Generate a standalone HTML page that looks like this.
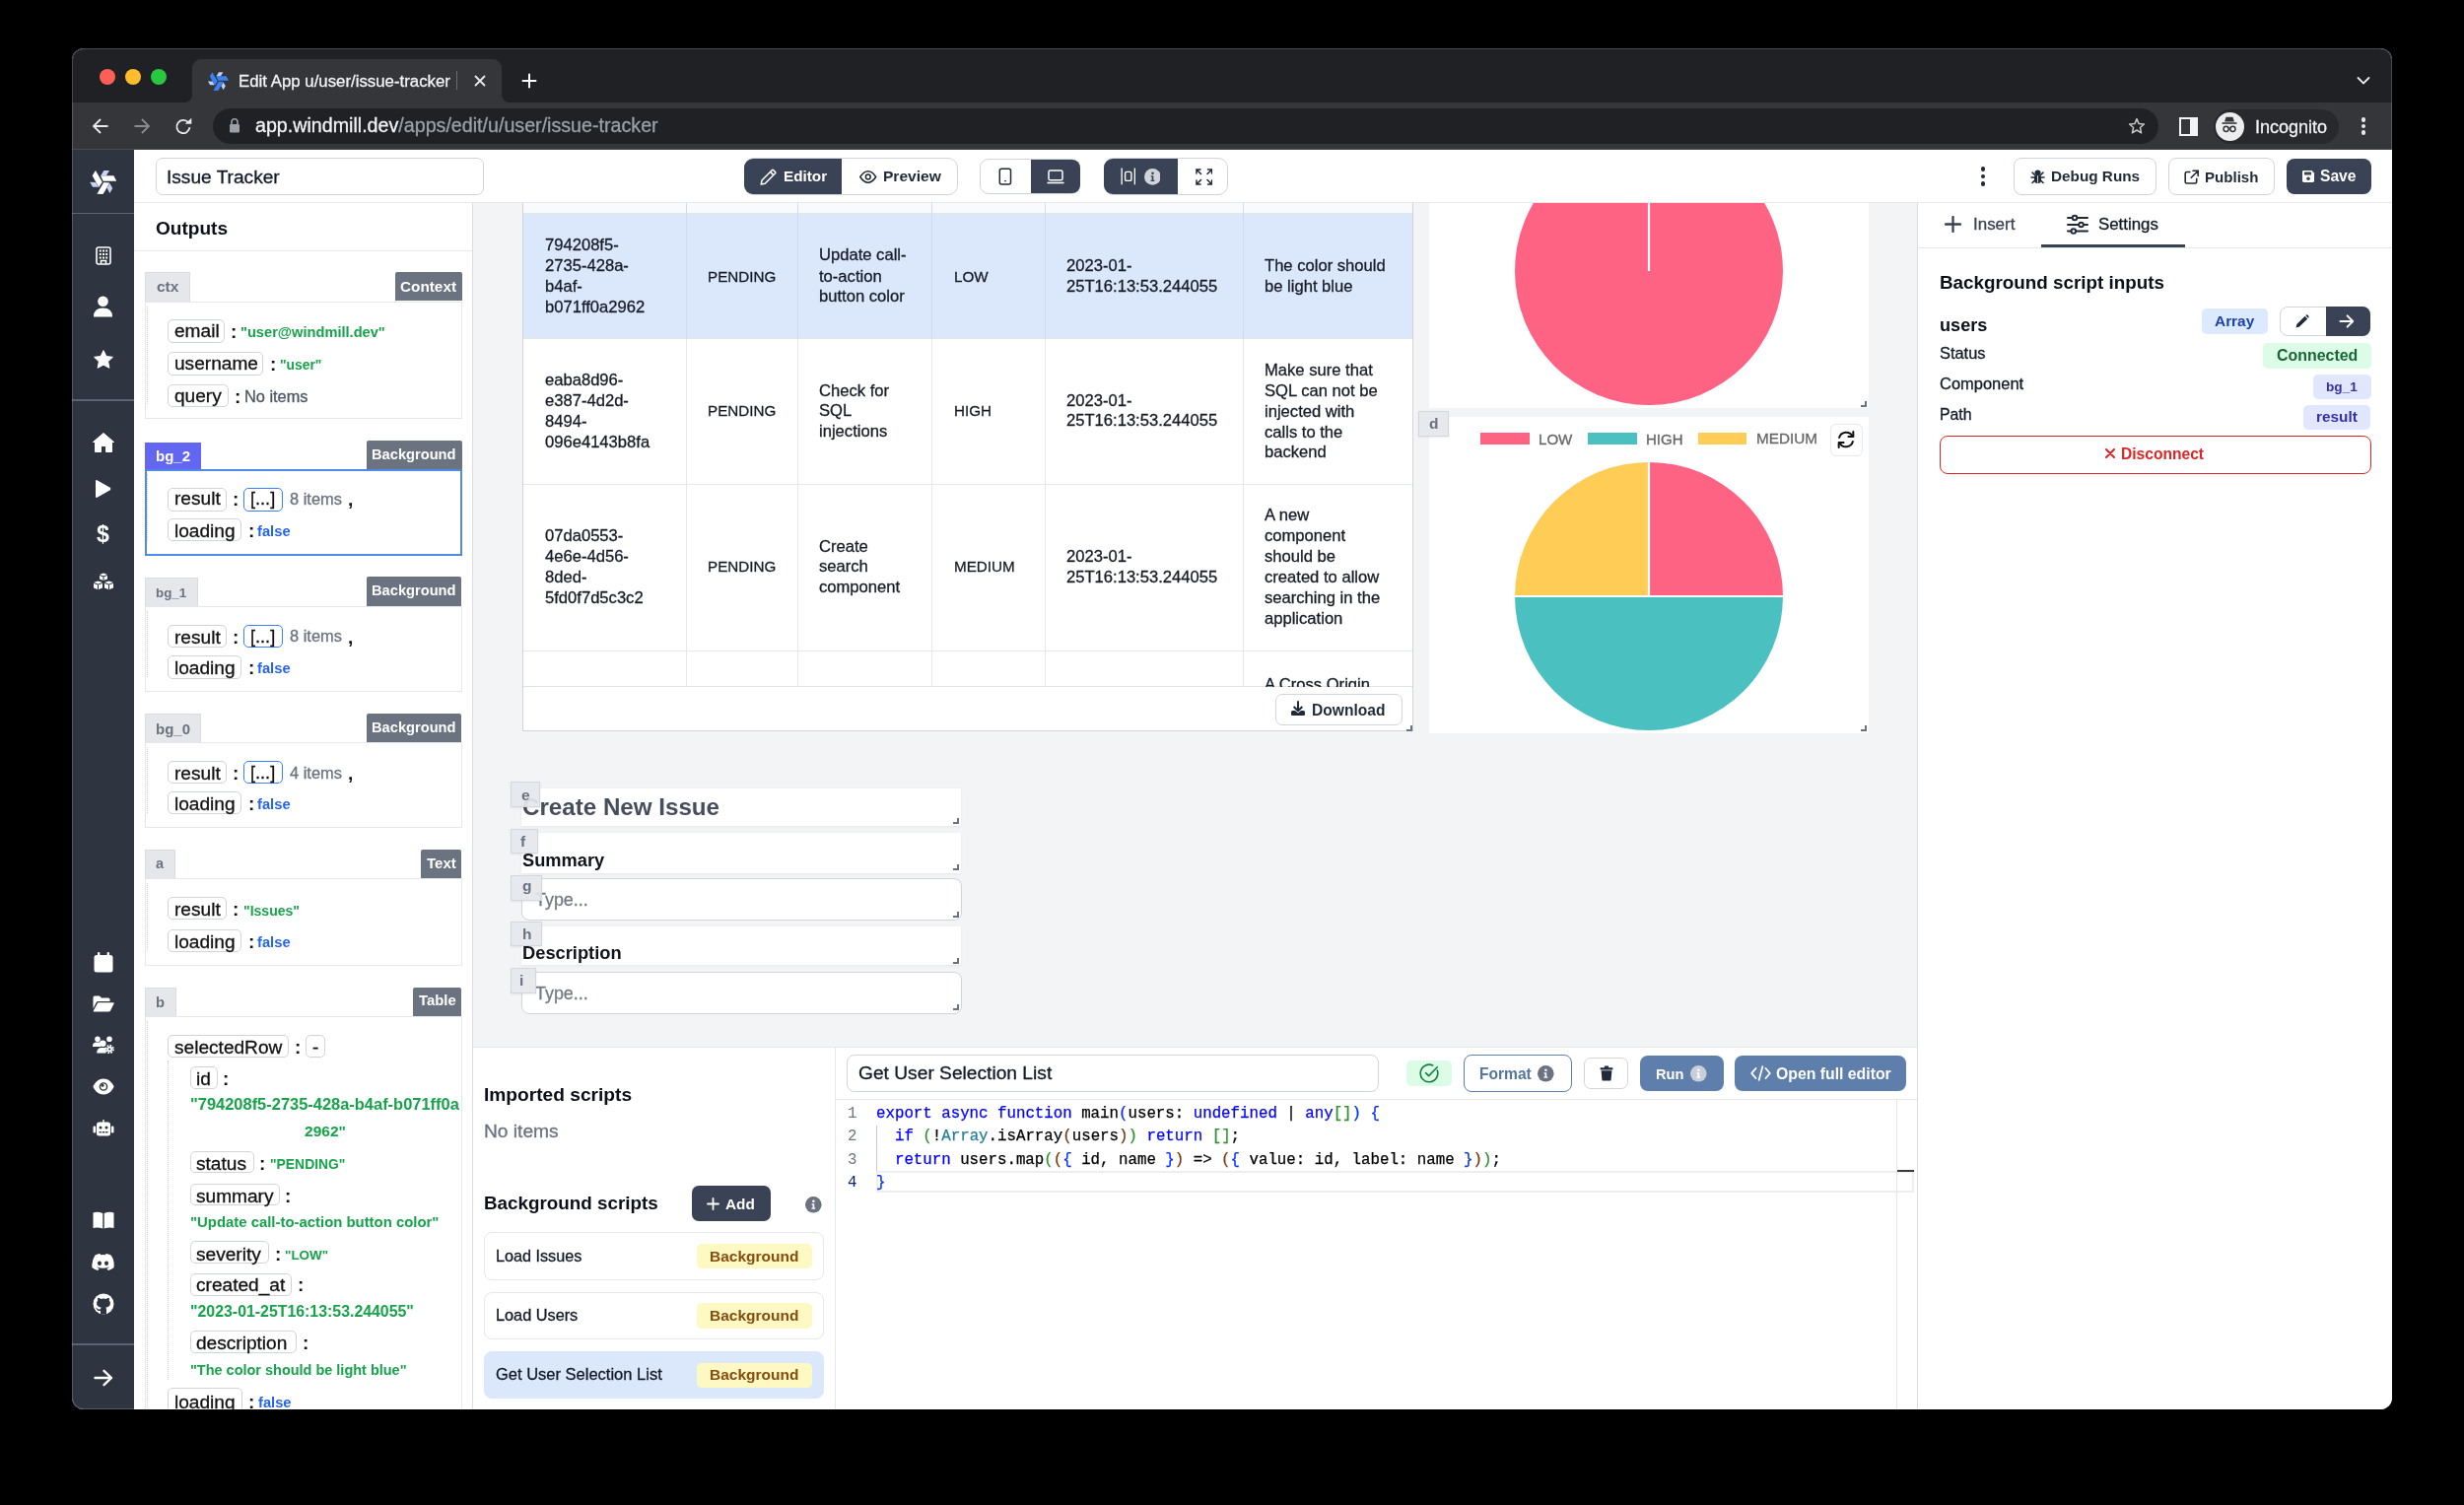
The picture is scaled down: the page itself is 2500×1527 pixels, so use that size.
<!DOCTYPE html><html><head><meta charset="utf-8"><style>
*{margin:0;padding:0;box-sizing:border-box}
html,body{width:2500px;height:1527px;background:#000;overflow:hidden}
body{position:relative;font-family:"Liberation Sans",sans-serif}
.a{position:absolute}
.t{white-space:nowrap;line-height:1;will-change:transform}
#win{position:absolute;left:0;top:0;width:2500px;height:1527px;clip-path:inset(49px 73px 97px 73px round 12px);background:#fff}
</style></head><body><div id="win">
<div class="a" style="left:73.0px;top:49.0px;width:2354.0px;height:55.0px;background:#202124"></div>
<div class="a" style="left:195px;top:60px;width:314px;height:45px;background:#35363a;border-radius:9px 9px 0 0"></div>
<div class="a" style="left:187px;top:96px;width:8px;height:8px;background:radial-gradient(circle at 0 0,#202124 7.5px,#35363a 8.5px)"></div>
<div class="a" style="left:509px;top:96px;width:8px;height:8px;background:radial-gradient(circle at 100% 0,#202124 7.5px,#35363a 8.5px)"></div>
<div class="a" style="left:100.6px;top:69.8px;width:16px;height:16px;border-radius:50%;background:#ff5f57"></div>
<div class="a" style="left:126.7px;top:69.8px;width:16px;height:16px;border-radius:50%;background:#febc2e"></div>
<div class="a" style="left:152.6px;top:69.8px;width:16px;height:16px;border-radius:50%;background:#28c840"></div>
<svg class="a" style="left:209.5px;top:71.1px" width="22.6" height="22.6" viewBox="-14 -14 28 28"><g transform="rotate(0)"><polygon points="-2.4,-6.1 10.4,-6.1 13.2,-0.8 0.1,-0.8" fill="#3b82f6"/><polygon points="0.8,-11.2 6.3,-11.2 3.3,-6.4 -2.1,-6.4" fill="#bcd0f7"/></g><g transform="rotate(120)"><polygon points="-2.4,-6.1 10.4,-6.1 13.2,-0.8 0.1,-0.8" fill="#3b82f6"/><polygon points="0.8,-11.2 6.3,-11.2 3.3,-6.4 -2.1,-6.4" fill="#bcd0f7"/></g><g transform="rotate(240)"><polygon points="-2.4,-6.1 10.4,-6.1 13.2,-0.8 0.1,-0.8" fill="#3b82f6"/><polygon points="0.8,-11.2 6.3,-11.2 3.3,-6.4 -2.1,-6.4" fill="#bcd0f7"/></g></svg>
<div class="a t" style="left:242.0px;top:74.6px;font-size:16.82px;font-weight:normal;font-family:'Liberation Sans',sans-serif;color:#f1f3f4;-webkit-text-stroke:0.3px;">Edit App u/user/issue-tracker</div>
<div class="a" style="left:462.5px;top:72.0px;width:1.0px;height:19.0px;background:#6a6b6f"></div>
<svg class="a" style="left:481px;top:76px;" width="12" height="12" viewBox="0 0 12 12"><path d="M1.5 1.5L10.5 10.5M10.5 1.5L1.5 10.5" stroke="#e8eaed" stroke-width="1.8" stroke-linecap="round"/></svg>
<svg class="a" style="left:529px;top:74px;" width="16" height="16" viewBox="0 0 16 16"><path d="M8 1.5V14.5M1.5 8H14.5" stroke="#fff" stroke-width="2" stroke-linecap="round"/></svg>
<svg class="a" style="left:2391px;top:77px;" width="14" height="10" viewBox="0 0 14 10"><path d="M1.5 2L7 7.5L12.5 2" stroke="#e8eaed" stroke-width="1.8" fill="none" stroke-linecap="round"/></svg>
<div class="a" style="left:73.0px;top:104.0px;width:2354.0px;height:48.0px;background:#35363a"></div>
<div class="a" style="left:73.0px;top:151.0px;width:2354.0px;height:1.5px;background:#4a4b4f"></div>
<svg class="a" style="left:93px;top:119px;" width="18" height="18" viewBox="0 0 18 18"><path d="M16.5 9H2M9 2L2 9L9 16" stroke="#e8eaed" stroke-width="1.8" fill="none"/></svg>
<svg class="a" style="left:135px;top:119px;" width="18" height="18" viewBox="0 0 18 18"><path d="M1.5 9H16M9 2L16 9L9 16" stroke="#8a8b8e" stroke-width="1.8" fill="none"/></svg>
<svg class="a" style="left:176.5px;top:118.5px;" width="19" height="19" viewBox="0 0 19 19"><path d="M15.5 10.2A6.6 6.6 0 1 1 14 5.3" stroke="#e8eaed" stroke-width="1.8" fill="none"/><path d="M10.8 6.8L17.3 6.8L17.3 0.8Z" fill="#e8eaed"/></svg>
<div class="a" style="left:215.5px;top:110px;width:1974.5px;height:36px;border-radius:18px;background:#202124"></div>
<svg class="a" style="left:232px;top:119px;" width="12" height="16" viewBox="0 0 12 16"><path d="M3 7V4.8a3 3 0 0 1 6 0V7" stroke="#9aa0a6" stroke-width="1.6" fill="none"/><rect x="1" y="7" width="10" height="8.5" rx="1.3" fill="#9aa0a6"/></svg>
<div class="a t" style="left:259.0px;top:117.7px;font-size:19.67px;font-weight:normal;font-family:'Liberation Sans',sans-serif;color:#9aa0a6;-webkit-text-stroke:0.3px;">app.windmill.dev/apps/edit/u/user/issue-tracker</div>
<div class="a t" style="left:259.0px;top:117.7px;font-size:19.67px;font-weight:normal;font-family:'Liberation Sans',sans-serif;color:#f1f3f4;-webkit-text-stroke:0.3px;background:#202124">app.windmill.dev</div>
<svg class="a" style="left:2159px;top:119px;" width="18" height="18" viewBox="0 0 18 18"><path d="M9 1.6L11.1 6.6L16.4 7L12.4 10.5L13.6 15.8L9 13L4.4 15.8L5.6 10.5L1.6 7L6.9 6.6Z" stroke="#c4c7c5" stroke-width="1.5" fill="none" stroke-linejoin="round"/></svg>
<svg class="a" style="left:2211px;top:119px;" width="19" height="19" viewBox="0 0 19 19"><rect x="1" y="1" width="17" height="17" fill="none" stroke="#f1f3f4" stroke-width="2"/><rect x="11" y="1" width="7" height="17" fill="#f1f3f4"/></svg>
<div class="a" style="left:2246px;top:110.5px;width:127px;height:35px;border-radius:17.5px;background:#28292c"></div>
<div class="a" style="left:2247.5px;top:113.5px;width:29px;height:29px;border-radius:50%;background:#eceded"></div>
<svg class="a" style="left:2250px;top:117px;" width="24" height="22" viewBox="0 0 24 22"><path d="M7 6.5L8.5 1.8H15.5L17 6.5Z" fill="#35363a"/><rect x="4.5" y="7.2" width="15" height="1.6" fill="#35363a"/><circle cx="8.6" cy="13.8" r="2.6" stroke="#35363a" stroke-width="1.5" fill="none"/><circle cx="15.4" cy="13.8" r="2.6" stroke="#35363a" stroke-width="1.5" fill="none"/><path d="M11.2 13.5Q12 12.8 12.8 13.5" stroke="#35363a" stroke-width="1.3" fill="none"/></svg>
<div class="a t" style="left:2287.5px;top:119.5px;font-size:18.00px;font-weight:normal;font-family:'Liberation Sans',sans-serif;color:#f1f3f4;-webkit-text-stroke:0.3px;">Incognito</div>
<div class="a" style="left:2395.9px;top:119.4px;width:4.2px;height:4.2px;border-radius:50%;background:#e8eaed"></div>
<div class="a" style="left:2395.9px;top:125.9px;width:4.2px;height:4.2px;border-radius:50%;background:#e8eaed"></div>
<div class="a" style="left:2395.9px;top:132.4px;width:4.2px;height:4.2px;border-radius:50%;background:#e8eaed"></div>
<div class="a" style="left:136.0px;top:152.0px;width:2291.0px;height:1278.0px;background:#fff"></div>
<div class="a" style="left:73.0px;top:152.0px;width:63.0px;height:1278.0px;background:#2e3440"></div>
<div class="a" style="left:480.0px;top:206.0px;width:1465.0px;height:856.0px;background:#f3f4f6"></div>
<div class="a" style="left:136.0px;top:205.0px;width:2291.0px;height:1.0px;background:#e5e7eb"></div>
<div class="a" style="left:479.0px;top:206.0px;width:1.3px;height:1224.0px;background:#dcdee2"></div>
<div class="a" style="left:1945.0px;top:206.0px;width:1.3px;height:1224.0px;background:#d9dbdf"></div>
<div class="a" style="left:480.0px;top:1062.0px;width:1465.0px;height:1.0px;background:#e5e7eb"></div>
<svg class="a" style="left:90.2px;top:169.8px" width="29.1" height="29.1" viewBox="-14 -14 28 28"><g transform="rotate(0)"><polygon points="-2.4,-6.1 10.4,-6.1 13.2,-0.8 0.1,-0.8" fill="#ffffff"/><polygon points="0.8,-11.2 6.3,-11.2 3.3,-6.4 -2.1,-6.4" fill="#c9d3f7"/></g><g transform="rotate(120)"><polygon points="-2.4,-6.1 10.4,-6.1 13.2,-0.8 0.1,-0.8" fill="#ffffff"/><polygon points="0.8,-11.2 6.3,-11.2 3.3,-6.4 -2.1,-6.4" fill="#c9d3f7"/></g><g transform="rotate(240)"><polygon points="-2.4,-6.1 10.4,-6.1 13.2,-0.8 0.1,-0.8" fill="#ffffff"/><polygon points="0.8,-11.2 6.3,-11.2 3.3,-6.4 -2.1,-6.4" fill="#c9d3f7"/></g></svg>
<div class="a" style="left:73.0px;top:215.5px;width:63.0px;height:1.5px;background:#5b6271"></div>
<div class="a" style="left:73.0px;top:405.0px;width:63.0px;height:1.5px;background:#5b6271"></div>
<div class="a" style="left:73.0px;top:1363.0px;width:63.0px;height:1.5px;background:#5b6271"></div>
<svg class="a" style="left:96.6px;top:249.5px" width="16" height="19" viewBox="0 0 16 19"><rect x="1" y="1" width="14" height="17" rx="2" fill="none" stroke="#fff" stroke-width="1.6"/><rect x="3.8" y="3.5" width="2" height="2" fill="#fff"/><rect x="3.8" y="7" width="2" height="2" fill="#fff"/><rect x="3.8" y="10.5" width="2" height="2" fill="#fff"/><rect x="7" y="3.5" width="2" height="2" fill="#fff"/><rect x="7" y="7" width="2" height="2" fill="#fff"/><rect x="7" y="10.5" width="2" height="2" fill="#fff"/><rect x="10.2" y="3.5" width="2" height="2" fill="#fff"/><rect x="10.2" y="7" width="2" height="2" fill="#fff"/><rect x="10.2" y="10.5" width="2" height="2" fill="#fff"/><path d="M5.5 18V14.5H10.5V18" fill="none" stroke="#fff" stroke-width="1.6"/></svg>
<svg class="a" style="left:95.0px;top:300.0px" width="19" height="22" viewBox="0 0 19 22"><circle cx="9.5" cy="5.8" r="5.3" fill="#fff"/><path d="M0 21.5Q0 12.6 9.5 12.6Q19 12.6 19 21.5Z" fill="#fff"/></svg>
<svg class="a" style="left:94.5px;top:354.5px" width="20" height="19" viewBox="0 0 20 19"><path d="M10 0.6L12.9 6.6L19.4 7.3L14.6 11.8L15.9 18.3L10 15.1L4.1 18.3L5.4 11.8L0.6 7.3L7.1 6.6Z" fill="#fff" stroke="#fff" stroke-width="1" stroke-linejoin="round"/></svg>
<svg class="a" style="left:93.5px;top:438.5px" width="22" height="20" viewBox="0 0 22 20"><path d="M11 0.5L21.5 9.5L19.5 9.5L19.5 19.5L13.5 19.5L13.5 13.5L8.5 13.5L8.5 19.5L2.5 19.5L2.5 9.5L0.5 9.5Z" fill="#fff" stroke="#fff" stroke-linejoin="round"/></svg>
<svg class="a" style="left:96.3px;top:485.8px" width="17" height="20" viewBox="0 0 17 20"><path d="M2.5 1.2Q1 0.5 1 2.5V17.5Q1 19.5 2.5 18.8L15.8 11.2Q17 10 15.8 8.8Z" fill="#fff"/></svg>
<div class="a t" style="left:98.4px;top:531.0px;font-size:23.06px;font-weight:bold;font-family:'Liberation Sans',sans-serif;color:#fff;">$</div>
<svg class="a" style="left:93.5px;top:580.5px" width="22" height="19" viewBox="0 0 22 18"><path d="M7 1.5L11 0L15 1.5V6L11 7.5L7 6Z" fill="#fff"/><path d="M1 9.5L5.5 8L10 9.5V15L5.5 16.8L1 15Z" fill="#fff"/><path d="M12 9.5L16.5 8L21 9.5V15L16.5 16.8L12 15Z" fill="#fff"/><path d="M7 2L11 3.4L15 2M11 3.4V7.3M1 10L5.5 11.5L10 10M5.5 11.5V16.5M12 10L16.5 11.5L21 10M16.5 11.5V16.5" stroke="#2e3440" stroke-width="1" fill="none"/></svg>
<svg class="a" style="left:94.5px;top:966.1px" width="20" height="21" viewBox="0 0 20 21"><rect x="0.5" y="3" width="19" height="17.5" rx="2.5" fill="#fff"/><rect x="4" y="0" width="2.4" height="5" rx="1" fill="#fff"/><rect x="13.6" y="0" width="2.4" height="5" rx="1" fill="#fff"/></svg>
<svg class="a" style="left:93.6px;top:1010.3px" width="22" height="17" viewBox="0 0 22 17"><path d="M0.5 2Q0.5 0.5 2 0.5H7L9 2.5H16Q17.5 2.5 17.5 4V6H5.5Q4.2 6 3.6 7.2L0.5 13.5Z" fill="#fff"/><path d="M5.3 7.2H21Q22 7.2 21.6 8.2L18 15.5Q17.5 16.5 16.2 16.5H1.3Q0.4 16.5 0.8 15.6Z" fill="#fff"/></svg>
<svg class="a" style="left:93.6px;top:1051.4px" width="22" height="18" viewBox="0 0 22 18"><circle cx="5" cy="3.2" r="2.8" fill="#fff"/><circle cx="17" cy="3.2" r="2.8" fill="#fff"/><path d="M0 10Q0 6.5 4 6.5H7Q9 6.5 9.5 8.5Q8 9.5 8 11H0Z" fill="#fff"/><circle cx="10.3" cy="7.8" r="3.3" fill="#fff"/><path d="M4.2 17.5Q4.2 12 9 12H12.5Q13 12 13.5 12.3V17.5Z" fill="#fff"/><circle cx="17.2" cy="13.5" r="3.6" fill="none" stroke="#fff" stroke-width="2.2" stroke-dasharray="1.6 1.2"/><circle cx="17.2" cy="13.5" r="2.8" fill="#fff"/><circle cx="17.2" cy="13.5" r="1.1" fill="#2e3440"/></svg>
<svg class="a" style="left:93.6px;top:1093.5px" width="22" height="17" viewBox="0 0 22 17"><path d="M11 0.5C5 0.5 1.5 5.5 0.5 8.5C1.5 11.5 5 16.5 11 16.5C17 16.5 20.5 11.5 21.5 8.5C20.5 5.5 17 0.5 11 0.5Z" fill="#fff"/><circle cx="11" cy="8.5" r="4.3" fill="#2e3440"/><circle cx="11" cy="8.5" r="2.9" fill="#fff"/><circle cx="10" cy="7.3" r="1.5" fill="#2e3440"/></svg>
<svg class="a" style="left:93.6px;top:1135.5px" width="22" height="17" viewBox="0 0 22 17"><rect x="10.3" y="0" width="1.4" height="3" fill="#fff"/><rect x="4" y="2.5" width="14" height="14" rx="2.5" fill="#fff"/><rect x="0.5" y="6.5" width="2.7" height="7" rx="1.2" fill="#fff"/><rect x="18.8" y="6.5" width="2.7" height="7" rx="1.2" fill="#fff"/><circle cx="8" cy="8" r="1.5" fill="#2e3440"/><circle cx="14" cy="8" r="1.5" fill="#2e3440"/><rect x="6.5" y="12" width="9" height="1.4" fill="#2e3440"/><rect x="8.8" y="11.8" width="1" height="1.8" fill="#fff"/><rect x="12.2" y="11.8" width="1" height="1.8" fill="#fff"/></svg>
<svg class="a" style="left:93.6px;top:1229.0px" width="22" height="18" viewBox="0 0 22 18"><path d="M0.5 1.5Q5 0 10.3 2V17.5Q5 15.8 0.5 17Z" fill="#fff"/><path d="M21.5 1.5Q17 0 11.7 2V17.5Q17 15.8 21.5 17Z" fill="#fff"/></svg>
<svg class="a" style="left:93.1px;top:1272.0px" width="23" height="17" viewBox="0 0 23 17"><path d="M19.5 1.5Q17 0.3 14.5 0L13.9 1.3Q11.5 0.9 9.1 1.3L8.5 0Q6 0.3 3.5 1.5Q-0.5 7.5 0.5 14.2Q3.5 16.3 6.3 17L7.6 15Q6.3 14.5 5.2 13.8L5.6 13.4Q11.5 16.2 17.4 13.4L17.8 13.8Q16.7 14.5 15.4 15L16.7 17Q19.5 16.3 22.5 14.2Q23.4 6.4 19.5 1.5Z" fill="#fff"/><ellipse cx="8" cy="9.8" rx="2" ry="2.2" fill="#2e3440"/><ellipse cx="15" cy="9.8" rx="2" ry="2.2" fill="#2e3440"/></svg>
<svg class="a" style="left:93.6px;top:1311.5px" width="22" height="22" viewBox="0 0 22 22"><circle cx="11" cy="11" r="10.5" fill="#fff"/><path d="M8 21.5V18Q5 18.5 4.2 16.4Q3.8 15.3 3 14.9Q3.5 14.5 4.6 15.4Q5.6 16.9 8 16.3Q8.1 15.2 8.7 14.6Q5 14.2 4.2 11.6Q3.6 9.2 5.2 7.5Q4.7 6 5.4 4.8Q6.9 4.9 8.2 6Q11 5.1 13.8 6Q15.1 4.9 16.6 4.8Q17.3 6 16.8 7.5Q18.4 9.2 17.8 11.6Q17 14.2 13.3 14.6Q14 15.3 14 16.8V21.5Z" fill="#2e3440"/></svg>
<svg class="a" style="left:94.5px;top:1388.5px" width="20" height="18" viewBox="0 0 20 18"><path d="M1.5 9H18M10.5 1.8L18 9L10.5 16.2" stroke="#fff" stroke-width="2.4" fill="none" stroke-linecap="round" stroke-linejoin="round"/></svg>
<div class="a" style="left:157.7px;top:160px;width:333.3px;height:37.8px;border:1.3px solid #d1d5db;border-radius:7px;background:#fff"></div>
<div class="a t" style="left:169.0px;top:170.4px;font-size:19.12px;font-weight:normal;font-family:'Liberation Sans',sans-serif;color:#111827;-webkit-text-stroke:0.3px;">Issue Tracker</div>
<div class="a" style="left:754.6px;top:159.9px;width:217.6px;height:38.2px;border:1.3px solid #d1d5db;border-radius:10px;background:#fff"></div>
<div class="a" style="left:754.6px;top:160.9px;width:99.7px;height:35.9px;border-radius:9px 0 0 9px;background:#394355"></div>
<svg class="a" style="left:769.5px;top:170px;" width="19" height="19" viewBox="0 0 19 19"><path d="M2.2 17L3 13L13.2 2.8Q14 2 14.8 2.8L16.4 4.4Q17.2 5.2 16.4 6L6.2 16.2Z" fill="none" stroke="#fff" stroke-width="1.5" stroke-linejoin="round"/><path d="M11.6 4.4L14.8 7.6" stroke="#fff" stroke-width="1.5"/></svg>
<div class="a t" style="left:794.6px;top:171.4px;font-size:15.29px;font-weight:bold;font-family:'Liberation Sans',sans-serif;color:#fff;">Editor</div>
<svg class="a" style="left:872px;top:172.5px;" width="17.5" height="13" viewBox="0 0 17.5 13"><path d="M0.8 6.5Q4.5 0.8 8.75 0.8Q13 0.8 16.7 6.5Q13 12.2 8.75 12.2Q4.5 12.2 0.8 6.5Z" fill="none" stroke="#1f2937" stroke-width="1.5"/><circle cx="8.75" cy="6.5" r="2.4" fill="none" stroke="#1f2937" stroke-width="1.5"/></svg>
<div class="a t" style="left:896.1px;top:171.2px;font-size:15.56px;font-weight:bold;font-family:'Liberation Sans',sans-serif;color:#1f2937;">Preview</div>
<div class="a" style="left:994.2px;top:161.3px;width:101.3px;height:35.4px;border:1.3px solid #d1d5db;border-radius:9px;background:#fff"></div>
<div class="a" style="left:1046px;top:162.2px;width:49.5px;height:33.4px;border-radius:0 8px 8px 0;background:#394355"></div>
<svg class="a" style="left:1013px;top:170px;" width="14" height="18" viewBox="0 0 14 18"><rect x="1.3" y="1.3" width="11.2" height="15.6" rx="2" fill="none" stroke="#1f2937" stroke-width="1.5"/><rect x="6.2" y="13" width="1.6" height="1.3" fill="#1f2937"/></svg>
<svg class="a" style="left:1062px;top:171.5px;" width="18" height="15" viewBox="0 0 18 15"><rect x="2" y="1" width="14" height="9.8" rx="1.6" fill="none" stroke="#fff" stroke-width="1.5"/><rect x="0.5" y="12.7" width="17" height="1.6" fill="#fff"/></svg>
<div class="a" style="left:1119.6px;top:160px;width:126.8px;height:38px;border:1.3px solid #d1d5db;border-radius:10px;background:#fff"></div>
<div class="a" style="left:1119.6px;top:160.8px;width:75.6px;height:36.2px;border-radius:9px 0 0 9px;background:#394355"></div>
<svg class="a" style="left:1136.5px;top:170px;" width="15.5" height="18" viewBox="0 0 15.5 18"><rect x="0.5" y="0.5" width="1.3" height="16.8" fill="#fff"/><rect x="13.7" y="0.5" width="1.3" height="16.8" fill="#fff"/><rect x="4.6" y="4.4" width="6.3" height="9" rx="1.5" fill="none" stroke="#fff" stroke-width="1.4"/></svg>
<svg class="a" style="left:1160.5px;top:171.4px" width="16.8" height="16.8" viewBox="0 0 16 16"><circle cx="8" cy="8" r="8" fill="#d1d5db"/><circle cx="8.1" cy="4.6" r="1.25" fill="#394355"/><path d="M6.3 6.9H8.9V11.1H9.9V12.3H6.2V11.1H7.3V8.1H6.3Z" fill="#394355"/></svg>
<svg class="a" style="left:1212.5px;top:171px;" width="17.5" height="17" viewBox="0 0 17.5 17"><g stroke="#1f2937" stroke-width="1.5" fill="none" stroke-linecap="round"><path d="M1 5V1H5M1 1L5.5 5.5"/><path d="M16.5 5V1H12.5M16.5 1L12 5.5"/><path d="M1 12V16H5M1 16L5.5 11.5"/><path d="M16.5 12V16H12.5M16.5 16L12 11.5"/></g></svg>
<div class="a" style="left:2009.5px;top:169.4px;width:4.2px;height:4.2px;border-radius:50%;background:#1f2937"></div>
<div class="a" style="left:2009.5px;top:176.8px;width:4.2px;height:4.2px;border-radius:50%;background:#1f2937"></div>
<div class="a" style="left:2009.5px;top:184.4px;width:4.2px;height:4.2px;border-radius:50%;background:#1f2937"></div>
<div class="a" style="left:2043.2px;top:159.8px;width:145.3px;height:38.5px;border:1.3px solid #d1d5db;border-radius:8px;background:#fff"></div>
<svg class="a" style="left:2060px;top:172px;" width="15" height="14.5" viewBox="0 0 15 14.5"><g fill="#1f2937"><ellipse cx="7.5" cy="3.2" rx="3" ry="2.6"/><rect x="4" y="5" width="7" height="9" rx="3.2"/></g><g stroke="#1f2937" stroke-width="1.6" stroke-linecap="round"><path d="M1 8H14M2 3L4.5 5.5M13 3L10.5 5.5M2 13.5L4.5 11M13 13.5L10.5 11"/></g><path d="M7.5 6V13.5" stroke="#fff" stroke-width="0.8"/></svg>
<div class="a t" style="left:2081.0px;top:171.4px;font-size:15.30px;font-weight:bold;font-family:'Liberation Sans',sans-serif;color:#1f2937;">Debug Runs</div>
<div class="a" style="left:2199.7px;top:159.8px;width:108.3px;height:38.5px;border:1.3px solid #d1d5db;border-radius:8px;background:#fff"></div>
<svg class="a" style="left:2215.5px;top:171.5px;" width="15.5" height="15" viewBox="0 0 15.5 15"><path d="M6.5 2.5H2.8Q1.2 2.5 1.2 4.1V12.4Q1.2 14 2.8 14H11.1Q12.7 14 12.7 12.4V8.7" fill="none" stroke="#1f2937" stroke-width="1.6"/><path d="M9 1.2H14.2V6.4M14.2 1.2L7.2 8.2" fill="none" stroke="#1f2937" stroke-width="1.6" stroke-linecap="round"/></svg>
<div class="a t" style="left:2236.6px;top:171.5px;font-size:15.07px;font-weight:bold;font-family:'Liberation Sans',sans-serif;color:#1f2937;">Publish</div>
<div class="a" style="left:2320px;top:161px;width:85.5px;height:35.6px;border-radius:8px;background:#394355"></div>
<svg class="a" style="left:2334.5px;top:172px;" width="14" height="14" viewBox="0 0 14 14"><path d="M1 2.4Q1 1 2.4 1H10.5L13 3.5V11.6Q13 13 11.6 13H2.4Q1 13 1 11.6Z" fill="#fff"/><rect x="3" y="2.6" width="7" height="3" rx="0.5" fill="#394355"/><circle cx="7" cy="9.3" r="1.8" fill="#394355"/></svg>
<div class="a t" style="left:2353.5px;top:171.2px;font-size:15.63px;font-weight:bold;font-family:'Liberation Sans',sans-serif;color:#fff;">Save</div>
<div class="a t" style="left:157.7px;top:221.5px;font-size:19.06px;font-weight:bold;font-family:'Liberation Sans',sans-serif;color:#0b0f19;">Outputs</div>
<div class="a" style="left:136.0px;top:253.5px;width:343.0px;height:1.0px;background:#e5e7eb"></div>
<div class="a" style="left:147px;top:276.3px;width:45.6px;height:29.7px;background:#e5e7eb;border:1px solid #d9dce1;border-bottom:none"></div>
<div class="a t" style="left:158.6px;top:283.2px;font-size:15.50px;font-weight:bold;font-family:'Liberation Sans',sans-serif;color:#6b7280;">ctx</div>
<div class="a" style="left:401px;top:276.3px;width:67.7px;height:29.2px;background:#6b7280;border-radius:2px 2px 0 0"></div>
<div class="a t" style="left:406.0px;top:283.3px;font-size:15.32px;font-weight:bold;font-family:'Liberation Sans',sans-serif;color:#fff;">Context</div>
<div class="a" style="left:147px;top:305.5px;width:322px;height:119.9px;border:1.2px solid #e5e7eb"></div>
<div class="a" style="left:148.5px;top:310.5px;width:0;height:99.9px;border-left:1px dotted #cfd3d9"></div>
<div class="a" style="left:170.4px;top:324px;width:57.6px;height:23.6px;border:1.2px solid #d1d5db;border-radius:5px;background:#fff"></div>
<div class="a t" style="left:177.0px;top:326.4px;font-size:19.10px;font-weight:normal;font-family:'Liberation Sans',sans-serif;color:#111;-webkit-text-stroke:0.3px;">email</div>
<div class="a t" style="left:234.0px;top:326.5px;font-size:19.00px;font-weight:bold;font-family:'Liberation Sans',sans-serif;color:#111;">:</div>
<div class="a t" style="left:243.5px;top:330.2px;font-size:14.64px;font-weight:bold;font-family:'Liberation Sans',sans-serif;color:#16a34a;">"user@windmill.dev"</div>
<div class="a" style="left:170.4px;top:357px;width:96.7px;height:23.5px;border:1.2px solid #d1d5db;border-radius:5px;background:#fff"></div>
<div class="a t" style="left:177.0px;top:359.4px;font-size:19.10px;font-weight:normal;font-family:'Liberation Sans',sans-serif;color:#111;-webkit-text-stroke:0.3px;">username</div>
<div class="a t" style="left:273.5px;top:359.5px;font-size:19.00px;font-weight:bold;font-family:'Liberation Sans',sans-serif;color:#111;">:</div>
<div class="a t" style="left:283.6px;top:363.6px;font-size:13.86px;font-weight:bold;font-family:'Liberation Sans',sans-serif;color:#16a34a;">"user"</div>
<div class="a" style="left:170.4px;top:389.5px;width:61.6px;height:23.9px;border:1.2px solid #d1d5db;border-radius:5px;background:#fff"></div>
<div class="a t" style="left:177.0px;top:392.4px;font-size:19.10px;font-weight:normal;font-family:'Liberation Sans',sans-serif;color:#111;-webkit-text-stroke:0.3px;">query</div>
<div class="a t" style="left:237.5px;top:392.5px;font-size:19.00px;font-weight:bold;font-family:'Liberation Sans',sans-serif;color:#111;">:</div>
<div class="a t" style="left:248.3px;top:394.3px;font-size:16.35px;font-weight:normal;font-family:'Liberation Sans',sans-serif;color:#4b5563;-webkit-text-stroke:0.3px;">No items</div>
<div class="a" style="left:147.4px;top:448.5px;width:56.6px;height:27.5px;background:#6366f1;border:1px solid #6366f1;border-bottom:none"></div>
<div class="a t" style="left:158.4px;top:454.5px;font-size:15.03px;font-weight:bold;font-family:'Liberation Sans',sans-serif;color:#fff;">bg_2</div>
<div class="a" style="left:372px;top:447.4px;width:97.0px;height:28.6px;background:#6b7280;border-radius:2px 2px 0 0"></div>
<div class="a t" style="left:377.2px;top:454.2px;font-size:14.67px;font-weight:bold;font-family:'Liberation Sans',sans-serif;color:#fff;">Background</div>
<div class="a" style="left:147px;top:476px;width:322px;height:87.6px;border:2px solid #4f8ae8"></div>
<div class="a" style="left:148.5px;top:481px;width:0;height:67.6px;border-left:1px dotted #cfd3d9"></div>
<div class="a" style="left:170.4px;top:494.5px;width:59.9px;height:24.1px;border:1.2px solid #d1d5db;border-radius:5px;background:#fff"></div>
<div class="a t" style="left:177.0px;top:496.4px;font-size:19.10px;font-weight:normal;font-family:'Liberation Sans',sans-serif;color:#111;-webkit-text-stroke:0.3px;">result</div>
<div class="a t" style="left:236.4px;top:496.5px;font-size:19.00px;font-weight:bold;font-family:'Liberation Sans',sans-serif;color:#111;">:</div>
<div class="a" style="left:246.7px;top:494.5px;width:40.6px;height:24.1px;border:1.5px solid #3b82f6;border-radius:5px"></div>
<div class="a t" style="left:254.4px;top:497.4px;font-size:18.13px;font-weight:normal;font-family:'Liberation Sans',sans-serif;color:#111;-webkit-text-stroke:0.3px;">[...]</div>
<div class="a t" style="left:293.5px;top:498.3px;font-size:16.43px;font-weight:normal;font-family:'Liberation Sans',sans-serif;color:#6b7280;-webkit-text-stroke:0.3px;">8 items</div>
<div class="a t" style="left:353.3px;top:496.5px;font-size:19.00px;font-weight:bold;font-family:'Liberation Sans',sans-serif;color:#111;">,</div>
<div class="a" style="left:170.4px;top:526px;width:74.8px;height:23.3px;border:1.2px solid #d1d5db;border-radius:5px;background:#fff"></div>
<div class="a t" style="left:177.0px;top:528.5px;font-size:19.10px;font-weight:normal;font-family:'Liberation Sans',sans-serif;color:#111;-webkit-text-stroke:0.3px;">loading</div>
<div class="a t" style="left:251.8px;top:528.5px;font-size:19.00px;font-weight:bold;font-family:'Liberation Sans',sans-serif;color:#111;">:</div>
<div class="a t" style="left:261.4px;top:532.1px;font-size:14.74px;font-weight:bold;font-family:'Liberation Sans',sans-serif;color:#2563eb;">false</div>
<div class="a" style="left:147px;top:585.9px;width:53.7px;height:28.8px;background:#e5e7eb;border:1px solid #d9dce1;border-bottom:none"></div>
<div class="a t" style="left:158.3px;top:595.3px;font-size:13.40px;font-weight:bold;font-family:'Liberation Sans',sans-serif;color:#6b7280;">bg_1</div>
<div class="a" style="left:372.4px;top:585.4px;width:95.6px;height:29.3px;background:#6b7280;border-radius:2px 2px 0 0"></div>
<div class="a t" style="left:377.2px;top:592.2px;font-size:14.67px;font-weight:bold;font-family:'Liberation Sans',sans-serif;color:#fff;">Background</div>
<div class="a" style="left:147px;top:614.7px;width:322px;height:87.0px;border:1.2px solid #e5e7eb"></div>
<div class="a" style="left:148.5px;top:619.7px;width:0;height:67.0px;border-left:1px dotted #cfd3d9"></div>
<div class="a" style="left:170.4px;top:633.6px;width:59.9px;height:23.4px;border:1.2px solid #d1d5db;border-radius:5px;background:#fff"></div>
<div class="a t" style="left:177.0px;top:636.5px;font-size:19.10px;font-weight:normal;font-family:'Liberation Sans',sans-serif;color:#111;-webkit-text-stroke:0.3px;">result</div>
<div class="a t" style="left:236.4px;top:636.5px;font-size:19.00px;font-weight:bold;font-family:'Liberation Sans',sans-serif;color:#111;">:</div>
<div class="a" style="left:246.7px;top:633.6px;width:40.6px;height:23.4px;border:1.5px solid #3b82f6;border-radius:5px"></div>
<div class="a t" style="left:254.4px;top:637.4px;font-size:18.13px;font-weight:normal;font-family:'Liberation Sans',sans-serif;color:#111;-webkit-text-stroke:0.3px;">[...]</div>
<div class="a t" style="left:293.5px;top:637.3px;font-size:16.43px;font-weight:normal;font-family:'Liberation Sans',sans-serif;color:#6b7280;-webkit-text-stroke:0.3px;">8 items</div>
<div class="a t" style="left:353.3px;top:636.5px;font-size:19.00px;font-weight:bold;font-family:'Liberation Sans',sans-serif;color:#111;">,</div>
<div class="a" style="left:170.4px;top:665px;width:74.8px;height:23.6px;border:1.2px solid #d1d5db;border-radius:5px;background:#fff"></div>
<div class="a t" style="left:177.0px;top:667.5px;font-size:19.10px;font-weight:normal;font-family:'Liberation Sans',sans-serif;color:#111;-webkit-text-stroke:0.3px;">loading</div>
<div class="a t" style="left:251.8px;top:667.5px;font-size:19.00px;font-weight:bold;font-family:'Liberation Sans',sans-serif;color:#111;">:</div>
<div class="a t" style="left:261.4px;top:671.1px;font-size:14.74px;font-weight:bold;font-family:'Liberation Sans',sans-serif;color:#2563eb;">false</div>
<div class="a" style="left:147px;top:724.3px;width:57.4px;height:28.5px;background:#e5e7eb;border:1px solid #d9dce1;border-bottom:none"></div>
<div class="a t" style="left:158.3px;top:731.5px;font-size:14.99px;font-weight:bold;font-family:'Liberation Sans',sans-serif;color:#6b7280;">bg_0</div>
<div class="a" style="left:372.4px;top:724.3px;width:95.6px;height:28.5px;background:#6b7280;border-radius:2px 2px 0 0"></div>
<div class="a t" style="left:377.2px;top:731.2px;font-size:14.67px;font-weight:bold;font-family:'Liberation Sans',sans-serif;color:#fff;">Background</div>
<div class="a" style="left:147px;top:752.8px;width:322px;height:87.2px;border:1.2px solid #e5e7eb"></div>
<div class="a" style="left:148.5px;top:757.8px;width:0;height:67.2px;border-left:1px dotted #cfd3d9"></div>
<div class="a" style="left:170.4px;top:771.5px;width:59.9px;height:23.5px;border:1.2px solid #d1d5db;border-radius:5px;background:#fff"></div>
<div class="a t" style="left:177.0px;top:774.5px;font-size:19.10px;font-weight:normal;font-family:'Liberation Sans',sans-serif;color:#111;-webkit-text-stroke:0.3px;">result</div>
<div class="a t" style="left:236.4px;top:774.5px;font-size:19.00px;font-weight:bold;font-family:'Liberation Sans',sans-serif;color:#111;">:</div>
<div class="a" style="left:246.7px;top:771.5px;width:40.6px;height:23.5px;border:1.5px solid #3b82f6;border-radius:5px"></div>
<div class="a t" style="left:254.4px;top:775.4px;font-size:18.13px;font-weight:normal;font-family:'Liberation Sans',sans-serif;color:#111;-webkit-text-stroke:0.3px;">[...]</div>
<div class="a t" style="left:293.5px;top:776.3px;font-size:16.43px;font-weight:normal;font-family:'Liberation Sans',sans-serif;color:#6b7280;-webkit-text-stroke:0.3px;">4 items</div>
<div class="a t" style="left:353.3px;top:774.5px;font-size:19.00px;font-weight:bold;font-family:'Liberation Sans',sans-serif;color:#111;">,</div>
<div class="a" style="left:170.4px;top:803px;width:74.8px;height:23.0px;border:1.2px solid #d1d5db;border-radius:5px;background:#fff"></div>
<div class="a t" style="left:177.0px;top:805.5px;font-size:19.10px;font-weight:normal;font-family:'Liberation Sans',sans-serif;color:#111;-webkit-text-stroke:0.3px;">loading</div>
<div class="a t" style="left:251.8px;top:805.5px;font-size:19.00px;font-weight:bold;font-family:'Liberation Sans',sans-serif;color:#111;">:</div>
<div class="a t" style="left:261.4px;top:809.1px;font-size:14.74px;font-weight:bold;font-family:'Liberation Sans',sans-serif;color:#2563eb;">false</div>
<div class="a" style="left:147px;top:862px;width:30.9px;height:29.0px;background:#e5e7eb;border:1px solid #d9dce1;border-bottom:none"></div>
<div class="a t" style="left:158.3px;top:869.2px;font-size:14.51px;font-weight:bold;font-family:'Liberation Sans',sans-serif;color:#6b7280;">a</div>
<div class="a" style="left:427px;top:862px;width:41.0px;height:29.0px;background:#6b7280;border-radius:2px 2px 0 0"></div>
<div class="a t" style="left:432.7px;top:867.5px;font-size:15.05px;font-weight:bold;font-family:'Liberation Sans',sans-serif;color:#fff;">Text</div>
<div class="a" style="left:147px;top:891px;width:322px;height:88.7px;border:1.2px solid #e5e7eb"></div>
<div class="a" style="left:148.5px;top:896px;width:0;height:68.7px;border-left:1px dotted #cfd3d9"></div>
<div class="a" style="left:170.4px;top:910px;width:59.9px;height:23.4px;border:1.2px solid #d1d5db;border-radius:5px;background:#fff"></div>
<div class="a t" style="left:177.0px;top:912.5px;font-size:19.10px;font-weight:normal;font-family:'Liberation Sans',sans-serif;color:#111;-webkit-text-stroke:0.3px;">result</div>
<div class="a t" style="left:236.4px;top:912.5px;font-size:19.00px;font-weight:bold;font-family:'Liberation Sans',sans-serif;color:#111;">:</div>
<div class="a t" style="left:246.5px;top:916.5px;font-size:14.04px;font-weight:bold;font-family:'Liberation Sans',sans-serif;color:#16a34a;">"Issues"</div>
<div class="a" style="left:170.4px;top:942.6px;width:74.8px;height:23.7px;border:1.2px solid #d1d5db;border-radius:5px;background:#fff"></div>
<div class="a t" style="left:177.0px;top:945.5px;font-size:19.10px;font-weight:normal;font-family:'Liberation Sans',sans-serif;color:#111;-webkit-text-stroke:0.3px;">loading</div>
<div class="a t" style="left:251.8px;top:945.5px;font-size:19.00px;font-weight:bold;font-family:'Liberation Sans',sans-serif;color:#111;">:</div>
<div class="a t" style="left:261.4px;top:949.1px;font-size:14.74px;font-weight:bold;font-family:'Liberation Sans',sans-serif;color:#2563eb;">false</div>
<div class="a" style="left:147px;top:1002px;width:31.7px;height:29.0px;background:#e5e7eb;border:1px solid #d9dce1;border-bottom:none"></div>
<div class="a t" style="left:158.3px;top:1010.1px;font-size:14.75px;font-weight:bold;font-family:'Liberation Sans',sans-serif;color:#6b7280;">b</div>
<div class="a" style="left:419px;top:1002px;width:49.3px;height:29.0px;background:#6b7280;border-radius:2px 2px 0 0"></div>
<div class="a t" style="left:425.0px;top:1008.1px;font-size:14.84px;font-weight:bold;font-family:'Liberation Sans',sans-serif;color:#fff;">Table</div>
<div class="a" style="left:147px;top:1031px;width:322px;height:429.0px;border:1.2px solid #e5e7eb"></div>
<div class="a" style="left:148.5px;top:1036px;width:0;height:409.0px;border-left:1px dotted #cfd3d9"></div>
<div class="a" style="left:170.4px;top:1049.8px;width:123.1px;height:23.2px;border:1.2px solid #d1d5db;border-radius:5px;background:#fff"></div>
<div class="a t" style="left:177.2px;top:1052.5px;font-size:19.10px;font-weight:normal;font-family:'Liberation Sans',sans-serif;color:#111;-webkit-text-stroke:0.3px;">selectedRow</div>
<div class="a t" style="left:299.0px;top:1052.5px;font-size:19.00px;font-weight:bold;font-family:'Liberation Sans',sans-serif;color:#111;">:</div>
<div class="a" style="left:310px;top:1049.8px;width:20px;height:23.2px;border:1.2px solid #d1d5db;border-radius:5px"></div>
<div class="a t" style="left:316.5px;top:1052.5px;font-size:19.00px;font-weight:normal;font-family:'Liberation Sans',sans-serif;color:#111;-webkit-text-stroke:0.3px;">-</div>
<div class="a" style="left:170.4px;top:1076px;width:0;height:324px;border-left:1px dotted #cfd3d9"></div>
<div class="a" style="left:192.8px;top:1081.5px;width:27.8px;height:23.0px;border:1.2px solid #d1d5db;border-radius:5px;background:#fff"></div>
<div class="a t" style="left:198.8px;top:1084.5px;font-size:19.10px;font-weight:normal;font-family:'Liberation Sans',sans-serif;color:#111;-webkit-text-stroke:0.3px;">id</div>
<div class="a t" style="left:226.0px;top:1084.5px;font-size:19.00px;font-weight:bold;font-family:'Liberation Sans',sans-serif;color:#111;">:</div>
<div class="a t" style="left:192.8px;top:1112.3px;font-size:16.45px;font-weight:bold;font-family:'Liberation Sans',sans-serif;color:#16a34a;">"794208f5-2735-428a-b4af-b071ff0a</div>
<div class="a t" style="left:308.7px;top:1140.2px;font-size:15.52px;font-weight:bold;font-family:'Liberation Sans',sans-serif;color:#16a34a;">2962"</div>
<div class="a" style="left:192.8px;top:1167.8px;width:65.2px;height:22.2px;border:1.2px solid #d1d5db;border-radius:5px;background:#fff"></div>
<div class="a t" style="left:199.4px;top:1170.5px;font-size:19.10px;font-weight:normal;font-family:'Liberation Sans',sans-serif;color:#111;-webkit-text-stroke:0.3px;">status</div>
<div class="a t" style="left:263.0px;top:1170.5px;font-size:19.00px;font-weight:bold;font-family:'Liberation Sans',sans-serif;color:#111;">:</div>
<div class="a t" style="left:273.5px;top:1174.6px;font-size:13.90px;font-weight:bold;font-family:'Liberation Sans',sans-serif;color:#16a34a;">"PENDING"</div>
<div class="a" style="left:192.8px;top:1200.7px;width:91.2px;height:22.3px;border:1.2px solid #d1d5db;border-radius:5px;background:#fff"></div>
<div class="a t" style="left:199.4px;top:1203.5px;font-size:19.10px;font-weight:normal;font-family:'Liberation Sans',sans-serif;color:#111;-webkit-text-stroke:0.3px;">summary</div>
<div class="a t" style="left:289.4px;top:1203.5px;font-size:19.00px;font-weight:bold;font-family:'Liberation Sans',sans-serif;color:#111;">:</div>
<div class="a t" style="left:192.8px;top:1233.1px;font-size:14.90px;font-weight:bold;font-family:'Liberation Sans',sans-serif;color:#16a34a;">"Update call-to-action button color"</div>
<div class="a" style="left:192.8px;top:1259px;width:80.2px;height:23.0px;border:1.2px solid #d1d5db;border-radius:5px;background:#fff"></div>
<div class="a t" style="left:199.4px;top:1262.5px;font-size:19.10px;font-weight:normal;font-family:'Liberation Sans',sans-serif;color:#111;-webkit-text-stroke:0.3px;">severity</div>
<div class="a t" style="left:278.5px;top:1262.5px;font-size:19.00px;font-weight:bold;font-family:'Liberation Sans',sans-serif;color:#111;">:</div>
<div class="a t" style="left:289.0px;top:1267.3px;font-size:13.48px;font-weight:bold;font-family:'Liberation Sans',sans-serif;color:#16a34a;">"LOW"</div>
<div class="a" style="left:192.8px;top:1291.9px;width:103.7px;height:23.0px;border:1.2px solid #d1d5db;border-radius:5px;background:#fff"></div>
<div class="a t" style="left:199.4px;top:1293.5px;font-size:19.10px;font-weight:normal;font-family:'Liberation Sans',sans-serif;color:#111;-webkit-text-stroke:0.3px;">created_at</div>
<div class="a t" style="left:302.0px;top:1293.5px;font-size:19.00px;font-weight:bold;font-family:'Liberation Sans',sans-serif;color:#111;">:</div>
<div class="a t" style="left:192.8px;top:1323.1px;font-size:15.89px;font-weight:bold;font-family:'Liberation Sans',sans-serif;color:#16a34a;">"2023-01-25T16:13:53.244055"</div>
<div class="a" style="left:192.8px;top:1350px;width:108.2px;height:23.4px;border:1.2px solid #d1d5db;border-radius:5px;background:#fff"></div>
<div class="a t" style="left:199.4px;top:1352.5px;font-size:19.10px;font-weight:normal;font-family:'Liberation Sans',sans-serif;color:#111;-webkit-text-stroke:0.3px;">description</div>
<div class="a t" style="left:306.7px;top:1352.5px;font-size:19.00px;font-weight:bold;font-family:'Liberation Sans',sans-serif;color:#111;">:</div>
<div class="a t" style="left:192.8px;top:1383.3px;font-size:14.48px;font-weight:bold;font-family:'Liberation Sans',sans-serif;color:#16a34a;">"The color should be light blue"</div>
<div class="a" style="left:170.4px;top:1408.4px;width:75.3px;height:31.6px;border:1.2px solid #d1d5db;border-radius:5px;background:#fff"></div>
<div class="a t" style="left:177.0px;top:1412.5px;font-size:19.10px;font-weight:normal;font-family:'Liberation Sans',sans-serif;color:#111;-webkit-text-stroke:0.3px;">loading</div>
<div class="a t" style="left:251.8px;top:1412.5px;font-size:19.00px;font-weight:bold;font-family:'Liberation Sans',sans-serif;color:#111;">:</div>
<div class="a t" style="left:261.5px;top:1416.2px;font-size:14.69px;font-weight:bold;font-family:'Liberation Sans',sans-serif;color:#2563eb;">false</div>
<div class="a" style="left:0;top:0;width:2500px;height:1527px;clip-path:inset(206px 555px 465px 480px)">
<div class="a" style="left:530.0px;top:150.0px;width:904.4px;height:592.4px;background:#fff;border:1.3px solid #d1d5db"></div>
<div class="a" style="left:531.0px;top:150.0px;width:902.4px;height:66.0px;background:#f9fafb"></div>
<div class="a" style="left:531.0px;top:216.0px;width:902.4px;height:1.0px;background:#e5e7eb"></div>
<div class="a" style="left:531.0px;top:217.0px;width:902.4px;height:126.7px;background:#dbe8fc"></div>
<div class="a" style="left:531.0px;top:343.2px;width:902.4px;height:1.0px;background:#e5e7eb"></div>
<div class="a" style="left:531.0px;top:491.0px;width:902.4px;height:1.0px;background:#e5e7eb"></div>
<div class="a" style="left:531.0px;top:659.8px;width:902.4px;height:1.0px;background:#e5e7eb"></div>
<div class="a" style="left:531.0px;top:696.0px;width:902.4px;height:1.3px;background:#dfe2e6"></div>
<div class="a" style="left:695.9px;top:150.0px;width:1.0px;height:193.7px;background:#cfdcf0"></div>
<div class="a" style="left:695.9px;top:343.7px;width:1.0px;height:352.7px;background:#e5e7eb"></div>
<div class="a" style="left:809.1px;top:150.0px;width:1.0px;height:193.7px;background:#cfdcf0"></div>
<div class="a" style="left:809.1px;top:343.7px;width:1.0px;height:352.7px;background:#e5e7eb"></div>
<div class="a" style="left:945.3px;top:150.0px;width:1.0px;height:193.7px;background:#cfdcf0"></div>
<div class="a" style="left:945.3px;top:343.7px;width:1.0px;height:352.7px;background:#e5e7eb"></div>
<div class="a" style="left:1060.0px;top:150.0px;width:1.0px;height:193.7px;background:#cfdcf0"></div>
<div class="a" style="left:1060.0px;top:343.7px;width:1.0px;height:352.7px;background:#e5e7eb"></div>
<div class="a" style="left:1261.0px;top:150.0px;width:1.0px;height:193.7px;background:#cfdcf0"></div>
<div class="a" style="left:1261.0px;top:343.7px;width:1.0px;height:352.7px;background:#e5e7eb"></div>
<div class="a" style="left:0;top:0;width:2500px;height:1527px;clip-path:inset(206px 1065px 830.6px 531px)">
<div class="a t" style="left:552.8px;top:240.7px;font-size:16.60px;font-weight:normal;font-family:'Liberation Sans',sans-serif;color:#161b26;-webkit-text-stroke:0.3px;">794208f5-</div>
<div class="a t" style="left:552.8px;top:261.7px;font-size:16.60px;font-weight:normal;font-family:'Liberation Sans',sans-serif;color:#161b26;-webkit-text-stroke:0.3px;">2735-428a-</div>
<div class="a t" style="left:552.8px;top:282.7px;font-size:16.60px;font-weight:normal;font-family:'Liberation Sans',sans-serif;color:#161b26;-webkit-text-stroke:0.3px;">b4af-</div>
<div class="a t" style="left:552.8px;top:303.7px;font-size:16.60px;font-weight:normal;font-family:'Liberation Sans',sans-serif;color:#161b26;-webkit-text-stroke:0.3px;">b071ff0a2962</div>
<div class="a t" style="left:718.2px;top:273.4px;font-size:15.20px;font-weight:normal;font-family:'Liberation Sans',sans-serif;color:#161b26;-webkit-text-stroke:0.3px;">PENDING</div>
<div class="a t" style="left:831.4px;top:250.7px;font-size:16.60px;font-weight:normal;font-family:'Liberation Sans',sans-serif;color:#161b26;-webkit-text-stroke:0.3px;">Update call-</div>
<div class="a t" style="left:831.4px;top:272.7px;font-size:16.60px;font-weight:normal;font-family:'Liberation Sans',sans-serif;color:#161b26;-webkit-text-stroke:0.3px;">to-action</div>
<div class="a t" style="left:831.4px;top:292.7px;font-size:16.60px;font-weight:normal;font-family:'Liberation Sans',sans-serif;color:#161b26;-webkit-text-stroke:0.3px;">button color</div>
<div class="a t" style="left:967.6px;top:273.4px;font-size:15.20px;font-weight:normal;font-family:'Liberation Sans',sans-serif;color:#161b26;-webkit-text-stroke:0.3px;">LOW</div>
<div class="a t" style="left:1082.3px;top:261.7px;font-size:16.60px;font-weight:normal;font-family:'Liberation Sans',sans-serif;color:#161b26;-webkit-text-stroke:0.3px;">2023-01-</div>
<div class="a t" style="left:1082.3px;top:282.7px;font-size:16.60px;font-weight:normal;font-family:'Liberation Sans',sans-serif;color:#161b26;-webkit-text-stroke:0.3px;">25T16:13:53.244055</div>
<div class="a t" style="left:1283.3px;top:261.7px;font-size:16.60px;font-weight:normal;font-family:'Liberation Sans',sans-serif;color:#161b26;-webkit-text-stroke:0.3px;">The color should</div>
<div class="a t" style="left:1283.3px;top:282.7px;font-size:16.60px;font-weight:normal;font-family:'Liberation Sans',sans-serif;color:#161b26;-webkit-text-stroke:0.3px;">be light blue</div>
<div class="a t" style="left:552.8px;top:377.7px;font-size:16.60px;font-weight:normal;font-family:'Liberation Sans',sans-serif;color:#161b26;-webkit-text-stroke:0.3px;">eaba8d96-</div>
<div class="a t" style="left:552.8px;top:398.7px;font-size:16.60px;font-weight:normal;font-family:'Liberation Sans',sans-serif;color:#161b26;-webkit-text-stroke:0.3px;">e387-4d2d-</div>
<div class="a t" style="left:552.8px;top:419.7px;font-size:16.60px;font-weight:normal;font-family:'Liberation Sans',sans-serif;color:#161b26;-webkit-text-stroke:0.3px;">8494-</div>
<div class="a t" style="left:552.8px;top:440.7px;font-size:16.60px;font-weight:normal;font-family:'Liberation Sans',sans-serif;color:#161b26;-webkit-text-stroke:0.3px;">096e4143b8fa</div>
<div class="a t" style="left:718.2px;top:409.4px;font-size:15.20px;font-weight:normal;font-family:'Liberation Sans',sans-serif;color:#161b26;-webkit-text-stroke:0.3px;">PENDING</div>
<div class="a t" style="left:831.4px;top:388.7px;font-size:16.60px;font-weight:normal;font-family:'Liberation Sans',sans-serif;color:#161b26;-webkit-text-stroke:0.3px;">Check for</div>
<div class="a t" style="left:831.4px;top:408.7px;font-size:16.60px;font-weight:normal;font-family:'Liberation Sans',sans-serif;color:#161b26;-webkit-text-stroke:0.3px;">SQL</div>
<div class="a t" style="left:831.4px;top:429.7px;font-size:16.60px;font-weight:normal;font-family:'Liberation Sans',sans-serif;color:#161b26;-webkit-text-stroke:0.3px;">injections</div>
<div class="a t" style="left:967.6px;top:409.4px;font-size:15.20px;font-weight:normal;font-family:'Liberation Sans',sans-serif;color:#161b26;-webkit-text-stroke:0.3px;">HIGH</div>
<div class="a t" style="left:1082.3px;top:398.7px;font-size:16.60px;font-weight:normal;font-family:'Liberation Sans',sans-serif;color:#161b26;-webkit-text-stroke:0.3px;">2023-01-</div>
<div class="a t" style="left:1082.3px;top:418.7px;font-size:16.60px;font-weight:normal;font-family:'Liberation Sans',sans-serif;color:#161b26;-webkit-text-stroke:0.3px;">25T16:13:53.244055</div>
<div class="a t" style="left:1283.3px;top:367.7px;font-size:16.60px;font-weight:normal;font-family:'Liberation Sans',sans-serif;color:#161b26;-webkit-text-stroke:0.3px;">Make sure that</div>
<div class="a t" style="left:1283.3px;top:388.7px;font-size:16.60px;font-weight:normal;font-family:'Liberation Sans',sans-serif;color:#161b26;-webkit-text-stroke:0.3px;">SQL can not be</div>
<div class="a t" style="left:1283.3px;top:409.7px;font-size:16.60px;font-weight:normal;font-family:'Liberation Sans',sans-serif;color:#161b26;-webkit-text-stroke:0.3px;">injected with</div>
<div class="a t" style="left:1283.3px;top:430.7px;font-size:16.60px;font-weight:normal;font-family:'Liberation Sans',sans-serif;color:#161b26;-webkit-text-stroke:0.3px;">calls to the</div>
<div class="a t" style="left:1283.3px;top:450.7px;font-size:16.60px;font-weight:normal;font-family:'Liberation Sans',sans-serif;color:#161b26;-webkit-text-stroke:0.3px;">backend</div>
<div class="a t" style="left:552.8px;top:535.7px;font-size:16.60px;font-weight:normal;font-family:'Liberation Sans',sans-serif;color:#161b26;-webkit-text-stroke:0.3px;">07da0553-</div>
<div class="a t" style="left:552.8px;top:556.7px;font-size:16.60px;font-weight:normal;font-family:'Liberation Sans',sans-serif;color:#161b26;-webkit-text-stroke:0.3px;">4e6e-4d56-</div>
<div class="a t" style="left:552.8px;top:577.7px;font-size:16.60px;font-weight:normal;font-family:'Liberation Sans',sans-serif;color:#161b26;-webkit-text-stroke:0.3px;">8ded-</div>
<div class="a t" style="left:552.8px;top:598.7px;font-size:16.60px;font-weight:normal;font-family:'Liberation Sans',sans-serif;color:#161b26;-webkit-text-stroke:0.3px;">5fd0f7d5c3c2</div>
<div class="a t" style="left:718.2px;top:567.4px;font-size:15.20px;font-weight:normal;font-family:'Liberation Sans',sans-serif;color:#161b26;-webkit-text-stroke:0.3px;">PENDING</div>
<div class="a t" style="left:831.4px;top:546.7px;font-size:16.60px;font-weight:normal;font-family:'Liberation Sans',sans-serif;color:#161b26;-webkit-text-stroke:0.3px;">Create</div>
<div class="a t" style="left:831.4px;top:566.7px;font-size:16.60px;font-weight:normal;font-family:'Liberation Sans',sans-serif;color:#161b26;-webkit-text-stroke:0.3px;">search</div>
<div class="a t" style="left:831.4px;top:587.7px;font-size:16.60px;font-weight:normal;font-family:'Liberation Sans',sans-serif;color:#161b26;-webkit-text-stroke:0.3px;">component</div>
<div class="a t" style="left:967.6px;top:567.4px;font-size:15.20px;font-weight:normal;font-family:'Liberation Sans',sans-serif;color:#161b26;-webkit-text-stroke:0.3px;">MEDIUM</div>
<div class="a t" style="left:1082.3px;top:556.7px;font-size:16.60px;font-weight:normal;font-family:'Liberation Sans',sans-serif;color:#161b26;-webkit-text-stroke:0.3px;">2023-01-</div>
<div class="a t" style="left:1082.3px;top:577.7px;font-size:16.60px;font-weight:normal;font-family:'Liberation Sans',sans-serif;color:#161b26;-webkit-text-stroke:0.3px;">25T16:13:53.244055</div>
<div class="a t" style="left:1283.3px;top:514.7px;font-size:16.60px;font-weight:normal;font-family:'Liberation Sans',sans-serif;color:#161b26;-webkit-text-stroke:0.3px;">A new</div>
<div class="a t" style="left:1283.3px;top:535.7px;font-size:16.60px;font-weight:normal;font-family:'Liberation Sans',sans-serif;color:#161b26;-webkit-text-stroke:0.3px;">component</div>
<div class="a t" style="left:1283.3px;top:556.7px;font-size:16.60px;font-weight:normal;font-family:'Liberation Sans',sans-serif;color:#161b26;-webkit-text-stroke:0.3px;">should be</div>
<div class="a t" style="left:1283.3px;top:577.7px;font-size:16.60px;font-weight:normal;font-family:'Liberation Sans',sans-serif;color:#161b26;-webkit-text-stroke:0.3px;">created to allow</div>
<div class="a t" style="left:1283.3px;top:598.7px;font-size:16.60px;font-weight:normal;font-family:'Liberation Sans',sans-serif;color:#161b26;-webkit-text-stroke:0.3px;">searching in the</div>
<div class="a t" style="left:1283.3px;top:619.7px;font-size:16.60px;font-weight:normal;font-family:'Liberation Sans',sans-serif;color:#161b26;-webkit-text-stroke:0.3px;">application</div>
<div class="a t" style="left:1283.3px;top:686.7px;font-size:16.60px;font-weight:normal;font-family:'Liberation Sans',sans-serif;color:#161b26;-webkit-text-stroke:0.3px;">A Cross Origin</div>
</div>
<div class="a" style="left:1293.5px;top:703.5px;width:129.2px;height:32.8px;border:1.3px solid #d1d5db;border-radius:7px;background:#fff"></div>
<svg class="a" style="left:1309px;top:711px;" width="16" height="16" viewBox="0 0 16 16"><path d="M8 1V10M4.2 6.5L8 10.3L11.8 6.5" stroke="#1f2937" stroke-width="2" fill="none" stroke-linecap="round" stroke-linejoin="round"/><path d="M1 11.5Q1 10 2.5 10H5L8 12.5L11 10H13.5Q15 10 15 11.5V13.8Q15 15 13.8 15H2.2Q1 15 1 13.8Z" fill="#1f2937"/></svg>
<div class="a t" style="left:1331.0px;top:713.2px;font-size:15.58px;font-weight:bold;font-family:'Liberation Sans',sans-serif;color:#1f2937;">Download</div>
<div class="a" style="left:1427px;top:735.5px;width:6px;height:6px;border-right:2px solid #6b7280;border-bottom:2px solid #6b7280"></div>
<div class="a" style="left:1449.5px;top:150.0px;width:446.5px;height:264.0px;background:#fff"></div>
<svg class="a" style="left:1537px;top:139px;" width="272" height="272" viewBox="0 0 272 272"><circle cx="136" cy="136" r="136" fill="#ff6384"/><path d="M136 0V136" stroke="#fff" stroke-width="2.2"/></svg>
<div class="a" style="left:1888px;top:407px;width:6px;height:6px;border-right:2px solid #6b7280;border-bottom:2px solid #6b7280"></div>
<div class="a" style="left:1449.5px;top:422.7px;width:446.5px;height:321.3px;background:#fff"></div>
<svg class="a" style="left:1537px;top:469px;" width="272" height="272" viewBox="0 0 272 272"><path d="M136 136V0A136 136 0 0 1 272 136Z" fill="#ff6384"/><path d="M136 136H272A136 136 0 0 1 0 136Z" fill="#4bc0c0"/><path d="M136 136H0A136 136 0 0 1 136 0Z" fill="#ffcd56"/><path d="M136 0V136M0 136H272" stroke="#fff" stroke-width="2.2"/></svg>
<div class="a" style="left:1888px;top:736px;width:6px;height:6px;border-right:2px solid #6b7280;border-bottom:2px solid #6b7280"></div>
<div class="a" style="left:1502.3px;top:438.6px;width:49.7px;height:12.6px;background:#ff6384"></div>
<div class="a t" style="left:1561.4px;top:437.5px;font-size:15.09px;font-weight:normal;font-family:'Liberation Sans',sans-serif;color:#666;-webkit-text-stroke:0.3px;">LOW</div>
<div class="a" style="left:1611.0px;top:438.6px;width:49.6px;height:12.6px;background:#4bc0c0"></div>
<div class="a t" style="left:1670.0px;top:437.5px;font-size:15.00px;font-weight:normal;font-family:'Liberation Sans',sans-serif;color:#666;-webkit-text-stroke:0.3px;">HIGH</div>
<div class="a" style="left:1722.9px;top:438.6px;width:49.1px;height:12.6px;background:#ffcd56"></div>
<div class="a t" style="left:1782.0px;top:437.4px;font-size:15.29px;font-weight:normal;font-family:'Liberation Sans',sans-serif;color:#666;-webkit-text-stroke:0.3px;">MEDIUM</div>
<div class="a" style="left:1856.5px;top:430px;width:33.1px;height:32.8px;border:1.2px solid #e5e7eb;border-radius:6px;background:#fff"></div>
<svg class="a" style="left:1863px;top:436px;" width="20" height="20" viewBox="0 0 20 20"><g transform="scale(1.111)"><g transform="translate(18,0) scale(-1,1)"><path d="M15.2 7.2A6.6 6.6 0 0 0 3.2 5.6" stroke="#111" stroke-width="1.8" fill="none" stroke-linecap="round"/><path d="M2.8 10.8A6.6 6.6 0 0 0 14.8 12.4" stroke="#111" stroke-width="1.8" fill="none" stroke-linecap="round"/><path d="M2.4 1.8V6.2H6.8" stroke="#111" stroke-width="1.8" fill="none" stroke-linecap="round" stroke-linejoin="round"/><path d="M15.6 16.2V11.8H11.2" stroke="#111" stroke-width="1.8" fill="none" stroke-linecap="round" stroke-linejoin="round"/></g></g></svg>
<div class="a" style="left:1438.6px;top:417px;width:31.0px;height:26.0px;background:rgba(229,231,235,0.92);border:1px solid #d4d7dc;box-shadow:0 1px 2px rgba(0,0,0,0.08)"></div>
<div class="a t" style="left:1450.1px;top:422.2px;font-size:15.50px;font-weight:bold;font-family:'Liberation Sans',sans-serif;color:#6b7280;">d</div>
<div class="a" style="left:528.5px;top:800px;width:446.5px;height:38.0px;background:#fff;box-shadow:0 1px 3px rgba(0,0,0,0.06)"></div>
<div class="a" style="left:528.5px;top:845px;width:446.5px;height:40.5px;background:#fff;box-shadow:0 1px 3px rgba(0,0,0,0.06)"></div>
<div class="a" style="left:528.5px;top:940.4px;width:446.5px;height:39.0px;background:#fff;box-shadow:0 1px 3px rgba(0,0,0,0.06)"></div>
<div class="a t" style="left:529.6px;top:806.9px;font-size:24.17px;font-weight:bold;font-family:'Liberation Sans',sans-serif;color:#464e5d;">Create New Issue</div>
<div class="a t" style="left:529.6px;top:863.9px;font-size:18.25px;font-weight:bold;font-family:'Liberation Sans',sans-serif;color:#0f131b;">Summary</div>
<div class="a t" style="left:529.6px;top:957.8px;font-size:18.31px;font-weight:bold;font-family:'Liberation Sans',sans-serif;color:#0f131b;">Description</div>
<div class="a" style="left:529px;top:891.4px;width:446.6px;height:43.1px;border:1.3px solid #d1d5db;border-radius:8px;background:#fff"></div>
<div class="a t" style="left:543.3px;top:904.5px;font-size:17.90px;font-weight:normal;font-family:'Liberation Sans',sans-serif;color:#757a83;-webkit-text-stroke:0.3px;">Type...</div>
<div class="a" style="left:529px;top:985.8px;width:446.6px;height:43.2px;border:1.3px solid #d1d5db;border-radius:8px;background:#fff"></div>
<div class="a t" style="left:543.3px;top:999.5px;font-size:17.90px;font-weight:normal;font-family:'Liberation Sans',sans-serif;color:#757a83;-webkit-text-stroke:0.3px;">Type...</div>
<div class="a" style="left:967px;top:830px;width:6px;height:6px;border-right:2px solid #6b7280;border-bottom:2px solid #6b7280"></div>
<div class="a" style="left:967px;top:877px;width:6px;height:6px;border-right:2px solid #6b7280;border-bottom:2px solid #6b7280"></div>
<div class="a" style="left:967px;top:925px;width:6px;height:6px;border-right:2px solid #6b7280;border-bottom:2px solid #6b7280"></div>
<div class="a" style="left:967px;top:972px;width:6px;height:6px;border-right:2px solid #6b7280;border-bottom:2px solid #6b7280"></div>
<div class="a" style="left:967px;top:1019px;width:6px;height:6px;border-right:2px solid #6b7280;border-bottom:2px solid #6b7280"></div>
<div class="a" style="left:517.6px;top:793.4px;width:30.6px;height:25.8px;background:rgba(229,231,235,0.92);border:1px solid #d4d7dc;box-shadow:0 1px 2px rgba(0,0,0,0.08)"></div>
<div class="a t" style="left:528.9px;top:799.2px;font-size:15.50px;font-weight:bold;font-family:'Liberation Sans',sans-serif;color:#6b7280;">e</div>
<div class="a" style="left:517.6px;top:840.6px;width:28.9px;height:25.9px;background:rgba(229,231,235,0.92);border:1px solid #d4d7dc;box-shadow:0 1px 2px rgba(0,0,0,0.08)"></div>
<div class="a t" style="left:528.0px;top:846.2px;font-size:15.50px;font-weight:bold;font-family:'Liberation Sans',sans-serif;color:#6b7280;">f</div>
<div class="a" style="left:517.6px;top:887.6px;width:32.0px;height:26.0px;background:rgba(229,231,235,0.92);border:1px solid #d4d7dc;box-shadow:0 1px 2px rgba(0,0,0,0.08)"></div>
<div class="a t" style="left:529.6px;top:891.2px;font-size:15.50px;font-weight:bold;font-family:'Liberation Sans',sans-serif;color:#6b7280;">g</div>
<div class="a" style="left:517.6px;top:934.7px;width:32.0px;height:25.8px;background:rgba(229,231,235,0.92);border:1px solid #d4d7dc;box-shadow:0 1px 2px rgba(0,0,0,0.08)"></div>
<div class="a t" style="left:529.6px;top:940.2px;font-size:15.50px;font-weight:bold;font-family:'Liberation Sans',sans-serif;color:#6b7280;">h</div>
<div class="a" style="left:517.6px;top:982px;width:26.8px;height:26.0px;background:rgba(229,231,235,0.92);border:1px solid #d4d7dc;box-shadow:0 1px 2px rgba(0,0,0,0.08)"></div>
<div class="a t" style="left:527.0px;top:987.2px;font-size:15.50px;font-weight:bold;font-family:'Liberation Sans',sans-serif;color:#6b7280;">i</div>
</div>
<div class="a" style="left:847.0px;top:1063.0px;width:1.0px;height:367.0px;background:#e5e7eb"></div>
<div class="a t" style="left:491.4px;top:1101.4px;font-size:19.17px;font-weight:bold;font-family:'Liberation Sans',sans-serif;color:#0b0f19;">Imported scripts</div>
<div class="a t" style="left:491.4px;top:1138.4px;font-size:19.19px;font-weight:normal;font-family:'Liberation Sans',sans-serif;color:#6b7280;-webkit-text-stroke:0.3px;">No items</div>
<div class="a t" style="left:491.4px;top:1211.6px;font-size:18.82px;font-weight:bold;font-family:'Liberation Sans',sans-serif;color:#0b0f19;">Background scripts</div>
<div class="a" style="left:701.7px;top:1203.2px;width:80.1px;height:35.6px;border-radius:7px;background:#394355"></div>
<svg class="a" style="left:716.5px;top:1215px;" width="13" height="13" viewBox="0 0 13 13"><path d="M6.5 1V12M1 6.5H12" stroke="#fff" stroke-width="1.8" stroke-linecap="round"/></svg>
<div class="a t" style="left:735.6px;top:1214.3px;font-size:15.32px;font-weight:bold;font-family:'Liberation Sans',sans-serif;color:#fff;">Add</div>
<svg class="a" style="left:817.2px;top:1214.1px" width="16.6" height="16.6" viewBox="0 0 16 16"><circle cx="8" cy="8" r="8" fill="#6b7280"/><circle cx="8.1" cy="4.6" r="1.25" fill="#fff"/><path d="M6.3 6.9H8.9V11.1H9.9V12.3H6.2V11.1H7.3V8.1H6.3Z" fill="#fff"/></svg>
<div class="a" style="left:491.4px;top:1250.2px;width:344.6px;height:49.0px;border-radius:8px;background:#fff;border:1.2px solid #e5e7eb"></div>
<div class="a t" style="left:503.2px;top:1266.4px;font-size:16.20px;font-weight:normal;font-family:'Liberation Sans',sans-serif;color:#111827;-webkit-text-stroke:0.3px;">Load Issues</div>
<div class="a" style="left:707.3px;top:1262.0px;width:116.7px;height:25.3px;border-radius:5px;background:#fef9c3"></div>
<div class="a t" style="left:719.9px;top:1267.3px;font-size:15.49px;font-weight:bold;font-family:'Liberation Sans',sans-serif;color:#854d0e;">Background</div>
<div class="a" style="left:491.4px;top:1310.6px;width:344.6px;height:48.7px;border-radius:8px;background:#fff;border:1.2px solid #e5e7eb"></div>
<div class="a t" style="left:503.2px;top:1326.3px;font-size:16.30px;font-weight:normal;font-family:'Liberation Sans',sans-serif;color:#111827;-webkit-text-stroke:0.3px;">Load Users</div>
<div class="a" style="left:707.3px;top:1322.4px;width:116.7px;height:25.3px;border-radius:5px;background:#fef9c3"></div>
<div class="a t" style="left:719.9px;top:1327.3px;font-size:15.49px;font-weight:bold;font-family:'Liberation Sans',sans-serif;color:#854d0e;">Background</div>
<div class="a" style="left:491.4px;top:1370.7px;width:344.6px;height:48.7px;border-radius:8px;background:#dbe8fc;border:1.2px solid #dbe8fc"></div>
<div class="a t" style="left:503.2px;top:1386.3px;font-size:16.50px;font-weight:normal;font-family:'Liberation Sans',sans-serif;color:#111827;-webkit-text-stroke:0.3px;">Get User Selection List</div>
<div class="a" style="left:707.3px;top:1382.5px;width:116.7px;height:25.3px;border-radius:5px;background:#fef9c3"></div>
<div class="a t" style="left:719.9px;top:1387.3px;font-size:15.49px;font-weight:bold;font-family:'Liberation Sans',sans-serif;color:#854d0e;">Background</div>
<div class="a" style="left:858.9px;top:1069.6px;width:540.1px;height:38.4px;border:1.3px solid #d1d5db;border-radius:8px;background:#fff"></div>
<div class="a t" style="left:870.6px;top:1079.4px;font-size:19.21px;font-weight:normal;font-family:'Liberation Sans',sans-serif;color:#111827;-webkit-text-stroke:0.3px;">Get User Selection List</div>
<div class="a" style="left:1426.8px;top:1076px;width:46.4px;height:25.6px;border-radius:5px;background:#dcfce7"></div>
<svg class="a" style="left:1440px;top:1079px;" width="20" height="20" viewBox="0 0 20 20"><path d="M18.27 6.99A8.8 8.8 0 1 1 13.72 2.02" stroke="#15803d" stroke-width="1.6" fill="none" stroke-linecap="round"/><path d="M6.6 9.6L9.6 12.6L18.3 3.8" stroke="#15803d" stroke-width="1.6" fill="none" stroke-linecap="round" stroke-linejoin="round"/></svg>
<div class="a" style="left:1484.5px;top:1070.2px;width:110.5px;height:38.2px;border:1.5px solid #5e7fab;border-radius:8px;background:#fff"></div>
<div class="a t" style="left:1501.1px;top:1082.2px;font-size:15.58px;font-weight:bold;font-family:'Liberation Sans',sans-serif;color:#55749f;">Format</div>
<svg class="a" style="left:1560.0px;top:1081.3px" width="16.6" height="16.6" viewBox="0 0 16 16"><circle cx="8" cy="8" r="8" fill="#6b7280"/><circle cx="8.1" cy="4.6" r="1.25" fill="#fff"/><path d="M6.3 6.9H8.9V11.1H9.9V12.3H6.2V11.1H7.3V8.1H6.3Z" fill="#fff"/></svg>
<div class="a" style="left:1606.8px;top:1073px;width:45.5px;height:31.5px;border:1.2px solid #d1d5db;border-radius:7px;background:#fff"></div>
<svg class="a" style="left:1622.5px;top:1081px;" width="14" height="16" viewBox="0 0 14 16"><rect x="0.5" y="2.2" width="13" height="2.2" rx="0.8" fill="#1f2937"/><rect x="4.8" y="0.4" width="4.4" height="2.4" rx="0.8" fill="#1f2937"/><path d="M1.6 5.2H12.4L11.6 14.4Q11.5 15.6 10.3 15.6H3.7Q2.5 15.6 2.4 14.4Z" fill="#1f2937"/></svg>
<div class="a" style="left:1664px;top:1071.4px;width:84.9px;height:35.4px;border-radius:8px;background:#5e7fab"></div>
<div class="a t" style="left:1679.5px;top:1083.2px;font-size:14.65px;font-weight:bold;font-family:'Liberation Sans',sans-serif;color:#fff;">Run</div>
<svg class="a" style="left:1715.1px;top:1081.3px" width="16.6" height="16.6" viewBox="0 0 16 16"><circle cx="8" cy="8" r="8" fill="#c9cfd8"/><circle cx="8.1" cy="4.6" r="1.25" fill="#fff"/><path d="M6.3 6.9H8.9V11.1H9.9V12.3H6.2V11.1H7.3V8.1H6.3Z" fill="#fff"/></svg>
<div class="a" style="left:1760px;top:1071.4px;width:174px;height:35.4px;border-radius:8px;background:#5e7fab"></div>
<svg class="a" style="left:1775.5px;top:1081px;" width="21" height="16" viewBox="0 0 21 16"><path d="M5.5 3L1.2 8L5.5 13M15.5 3L19.8 8L15.5 13M12.3 1.2L8.7 14.8" stroke="#fff" stroke-width="1.8" fill="none" stroke-linecap="round" stroke-linejoin="round"/></svg>
<div class="a t" style="left:1801.8px;top:1082.1px;font-size:15.81px;font-weight:bold;font-family:'Liberation Sans',sans-serif;color:#fff;">Open full editor</div>
<div class="a" style="left:848.0px;top:1114.7px;width:1097.0px;height:1.0px;background:#e5e7eb"></div>
<div class="a t" style="left:860.4px;top:1122.6px;font-size:15.78px;font-weight:normal;font-family:'Liberation Mono',monospace;color:#6e7681;">1</div>
<div class="a t" style="left:860.4px;top:1145.6px;font-size:15.78px;font-weight:normal;font-family:'Liberation Mono',monospace;color:#6e7681;">2</div>
<div class="a t" style="left:860.4px;top:1169.6px;font-size:15.78px;font-weight:normal;font-family:'Liberation Mono',monospace;color:#6e7681;">3</div>
<div class="a t" style="left:860.4px;top:1192.6px;font-size:15.78px;font-weight:normal;font-family:'Liberation Mono',monospace;color:#0b216f;">4</div>
<div class="a" style="left:888.5px;top:1188.1px;width:1053.5px;height:22.4px;border:2px solid #eeeeee"></div>
<div class="a" style="left:888.7px;top:1141.5px;width:1.3px;height:46.3px;background:#c8c8c8"></div>
<div class="a t" style="left:889.2px;top:1122.6px;font-size:15.78px;font-family:'Liberation Mono',monospace;-webkit-text-stroke:0.25px"><span style="color:#0000ff">export</span><span style="color:#000">&nbsp;</span><span style="color:#0000ff">async</span><span style="color:#000">&nbsp;</span><span style="color:#0000ff">function</span><span style="color:#000">&nbsp;main</span><span style="color:#0431fa">(</span><span style="color:#000">users:&nbsp;</span><span style="color:#0000ff">undefined</span><span style="color:#000">&nbsp;|&nbsp;</span><span style="color:#0000ff">any</span><span style="color:#319331">[]</span><span style="color:#0431fa">)</span><span style="color:#000">&nbsp;</span><span style="color:#0431fa">{</span></div>
<div class="a t" style="left:889.2px;top:1145.6px;font-size:15.78px;font-family:'Liberation Mono',monospace;-webkit-text-stroke:0.25px"><span style="color:#000">&nbsp;&nbsp;</span><span style="color:#0000ff">if</span><span style="color:#000">&nbsp;</span><span style="color:#319331">(</span><span style="color:#000">!</span><span style="color:#267f99">Array</span><span style="color:#000">.isArray</span><span style="color:#7b3814">(</span><span style="color:#000">users</span><span style="color:#7b3814">)</span><span style="color:#319331">)</span><span style="color:#000">&nbsp;</span><span style="color:#0000ff">return</span><span style="color:#000">&nbsp;</span><span style="color:#319331">[]</span><span style="color:#000">;</span></div>
<div class="a t" style="left:889.2px;top:1169.6px;font-size:15.78px;font-family:'Liberation Mono',monospace;-webkit-text-stroke:0.25px"><span style="color:#000">&nbsp;&nbsp;</span><span style="color:#0000ff">return</span><span style="color:#000">&nbsp;users.map</span><span style="color:#319331">(</span><span style="color:#7b3814">(</span><span style="color:#0431fa">{</span><span style="color:#000">&nbsp;id,&nbsp;name&nbsp;</span><span style="color:#0431fa">}</span><span style="color:#7b3814">)</span><span style="color:#000">&nbsp;=&gt;&nbsp;</span><span style="color:#7b3814">(</span><span style="color:#0431fa">{</span><span style="color:#000">&nbsp;value:&nbsp;id,&nbsp;label:&nbsp;name&nbsp;</span><span style="color:#0431fa">}</span><span style="color:#7b3814">)</span><span style="color:#319331">)</span><span style="color:#000">;</span></div>
<div class="a t" style="left:889.2px;top:1192.6px;font-size:15.78px;font-family:'Liberation Mono',monospace;-webkit-text-stroke:0.25px"><span style="color:#0431fa">}</span></div>
<div class="a" style="left:1924.0px;top:1116.0px;width:1.0px;height:314.0px;background:#e6e6e6"></div>
<div class="a" style="left:1924.5px;top:1186.5px;width:17.5px;height:2.0px;background:#3b3b3b"></div>
<svg class="a" style="left:1973px;top:218.5px;" width="17" height="17" viewBox="0 0 17 17"><path d="M8.5 1V16M1 8.5H16" stroke="#374151" stroke-width="2.3" stroke-linecap="round"/></svg>
<div class="a t" style="left:2001.6px;top:219.5px;font-size:16.96px;font-weight:normal;font-family:'Liberation Sans',sans-serif;color:#374151;-webkit-text-stroke:0.3px;">Insert</div>
<svg class="a" style="left:2096.5px;top:216.5px;" width="22" height="21" viewBox="0 0 22 21"><g stroke="#1f2937" stroke-width="2" fill="none" stroke-linecap="round"><path d="M1 4H21M1 11H21M1 17.6H21"/></g><g fill="#fff" stroke="#1f2937" stroke-width="1.9"><circle cx="8" cy="4" r="2.3"/><circle cx="14.5" cy="11" r="2.3"/><circle cx="6.8" cy="17.6" r="2.3"/></g></svg>
<div class="a t" style="left:2129.0px;top:219.6px;font-size:16.87px;font-weight:normal;font-family:'Liberation Sans',sans-serif;color:#111827;-webkit-text-stroke:0.3px;">Settings</div>
<div class="a" style="left:1946.0px;top:251.0px;width:481.0px;height:1.0px;background:#e5e7eb"></div>
<div class="a" style="left:2071.4px;top:247.6px;width:145.4px;height:3.2px;background:#374151"></div>
<div class="a t" style="left:1967.5px;top:277.6px;font-size:18.82px;font-weight:bold;font-family:'Liberation Sans',sans-serif;color:#0b0f19;">Background script inputs</div>
<div class="a t" style="left:1967.5px;top:321.4px;font-size:18.13px;font-weight:bold;font-family:'Liberation Sans',sans-serif;color:#0b0f19;">users</div>
<div class="a" style="left:2234px;top:313px;width:66.5px;height:25.6px;border-radius:5px;background:#dbeafe"></div>
<div class="a t" style="left:2247.0px;top:318.3px;font-size:15.41px;font-weight:bold;font-family:'Liberation Sans',sans-serif;color:#1e40af;">Array</div>
<div class="a" style="left:2312.5px;top:310.7px;width:92px;height:30.7px;border:1.3px solid #d1d5db;border-radius:8px;background:#fff"></div>
<div class="a" style="left:2360px;top:310.7px;width:44.5px;height:30.7px;border-radius:0 8px 8px 0;background:#394355"></div>
<svg class="a" style="left:2328px;top:318px;" width="16" height="16" viewBox="0 0 16 16"><path d="M1.5 14.5L2.4 11L10.6 2.8L13.2 5.4L5 13.6Z" fill="#1f2937"/><path d="M11.6 1.8Q12.6 0.8 13.6 1.8L14.2 2.4Q15.2 3.4 14.2 4.4L13.9 4.7L11.3 2.1Z" fill="#1f2937"/></svg>
<svg class="a" style="left:2373px;top:318px;" width="16" height="16" viewBox="0 0 16 16"><path d="M1.5 8H14M8.6 2.4L14.2 8L8.6 13.6" stroke="#fff" stroke-width="2" fill="none" stroke-linecap="round" stroke-linejoin="round"/></svg>
<div class="a t" style="left:1967.5px;top:350.3px;font-size:16.40px;font-weight:normal;font-family:'Liberation Sans',sans-serif;color:#111827;-webkit-text-stroke:0.3px;">Status</div>
<div class="a" style="left:2296px;top:348px;width:109.5px;height:25.9px;border-radius:5px;background:#dcfce7"></div>
<div class="a t" style="left:2309.5px;top:353.0px;font-size:15.93px;font-weight:bold;font-family:'Liberation Sans',sans-serif;color:#166534;">Connected</div>
<div class="a t" style="left:1967.5px;top:381.3px;font-size:16.48px;font-weight:normal;font-family:'Liberation Sans',sans-serif;color:#111827;-webkit-text-stroke:0.3px;">Component</div>
<div class="a" style="left:2347px;top:379.5px;width:58.5px;height:25px;border-radius:5px;background:#e0e7ff"></div>
<div class="a t" style="left:2360.0px;top:386.2px;font-size:13.62px;font-weight:bold;font-family:'Liberation Sans',sans-serif;color:#3730a3;">bg_1</div>
<div class="a t" style="left:1967.5px;top:413.1px;font-size:15.82px;font-weight:normal;font-family:'Liberation Sans',sans-serif;color:#111827;-webkit-text-stroke:0.3px;">Path</div>
<div class="a" style="left:2336.8px;top:411px;width:68.7px;height:25px;border-radius:5px;background:#e0e7ff"></div>
<div class="a t" style="left:2350.0px;top:415.3px;font-size:15.34px;font-weight:bold;font-family:'Liberation Sans',sans-serif;color:#3730a3;">result</div>
<div class="a" style="left:1967.5px;top:442px;width:438px;height:38.7px;border:1.6px solid #dc2626;border-radius:8px;background:#fff"></div>
<svg class="a" style="left:2136px;top:455px;" width="10" height="10" viewBox="0 0 10 10"><path d="M1 1L9 9M9 1L1 9" stroke="#dc2626" stroke-width="2" stroke-linecap="round"/></svg>
<div class="a t" style="left:2151.6px;top:453.2px;font-size:15.60px;font-weight:bold;font-family:'Liberation Sans',sans-serif;color:#dc2626;">Disconnect</div><div class="a" style="left:73px;top:49px;width:2354px;height:1381px;border-radius:12px;border:1px solid rgba(255,255,255,0.18);pointer-events:none"></div></div></body></html>
